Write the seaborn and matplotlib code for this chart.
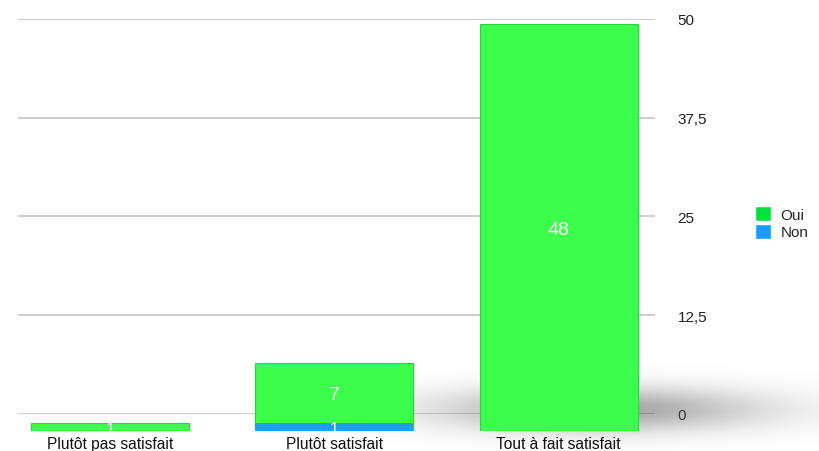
import matplotlib.pyplot as plt
import seaborn as sns
import pandas as pd
import numpy as np
from matplotlib.patches import Patch

categories = ['Plutôt pas satisfait', 'Plutôt satisfait', 'Tout à fait satisfait']
oui = [1, 7, 48]
non = [0, 1, 0]
y_ticks = [0, 12.5, 25, 37.5, 50]
y_tick_labels = ['0', '12,5', '25', '37,5', '50']

green = '#3cfc4c'
blue = '#17a0f7'

sns.set_theme(style='white')
plt.rcParams['font.family'] = ['Liberation Sans', 'DejaVu Sans']

df = pd.DataFrame({'cat': categories, 'oui': oui, 'non': non})
df['total'] = df['oui'] + df['non']

fig = plt.figure(figsize=(8.19, 4.52), dpi=100)

# grid axes (the flat back wall with the scale on the right)
ax_grid = fig.add_axes([0.022, 0.082, 0.778, 0.874])
ax_grid.set_xlim(-0.41, 2.43)
ax_grid.set_ylim(0, 50)
ax_grid.set_yticks(y_ticks)
ax_grid.set_yticklabels(y_tick_labels)
ax_grid.yaxis.tick_right()
ax_grid.tick_params(axis='y', length=0, pad=16, labelsize=11, labelcolor='#222222')
ax_grid.set_xticks([])
for y in y_ticks:
    ax_grid.axhline(y, color='#c9c9c9', lw=1.3, zorder=0)
for s in ax_grid.spines.values():
    s.set_visible(False)

# soft floor shadow behind the tall bar
ax_sh = fig.add_axes([0, 0, 1, 1])
ax_sh.axis('off')
xx, yy = np.meshgrid(np.arange(819), np.arange(452))
shade = np.exp(-((xx - 600) / 160.0) ** 2 - ((yy - 410) / 22.0) ** 2)
img = np.zeros((452, 819, 4))
img[..., :3] = 0.35
img[..., 3] = 0.55 * shade
ax_sh.imshow(img, extent=(0, 819, 452, 0), aspect='auto')
ax_sh.set_xlim(0, 819)
ax_sh.set_ylim(452, 0)

# bar axes (slightly offset, as the bars stand in front of the wall)
ax = fig.add_axes([0.022, 0.0442, 0.778, 0.938])
ax.patch.set_alpha(0)
sns.barplot(data=df, x='cat', y='total', color=green, saturation=1, width=0.705,
            ax=ax, edgecolor='#22d83a', linewidth=0.8)
sns.barplot(data=df, x='cat', y='non', color=blue, saturation=1, width=0.705,
            ax=ax, linewidth=0)
ax.set_xlim(-0.41, 2.43)
ax.set_ylim(0, 50)
ax.set_yticks([])
ax.set_xlabel('')
ax.set_ylabel('')
ax.tick_params(axis='x', length=0, pad=3.5, labelsize=11.2, labelcolor='#111111')
for s in ax.spines.values():
    s.set_visible(False)

for i in range(len(categories)):
    ax.text(i, non[i] + oui[i] / 2, str(oui[i]), color='white', ha='center',
            va='center_baseline', fontsize=14 if oui[i] > 1 else 11.5)
    if non[i] > 0:
        ax.text(i, non[i] / 2, str(non[i]), color='white', ha='center',
                va='center_baseline', fontsize=11.5)

handles = [Patch(facecolor='#00e23c', label='Oui'), Patch(facecolor='#1a9bff', label='Non')]
fig.legend(handles=handles, loc='center left', bbox_to_anchor=(0.914, 0.505),
           frameon=False, fontsize=11, handlelength=1.1, handleheight=1.1,
           handletextpad=0.6, labelspacing=0.15, borderaxespad=0)

fig.savefig('out.png', dpi=100)
